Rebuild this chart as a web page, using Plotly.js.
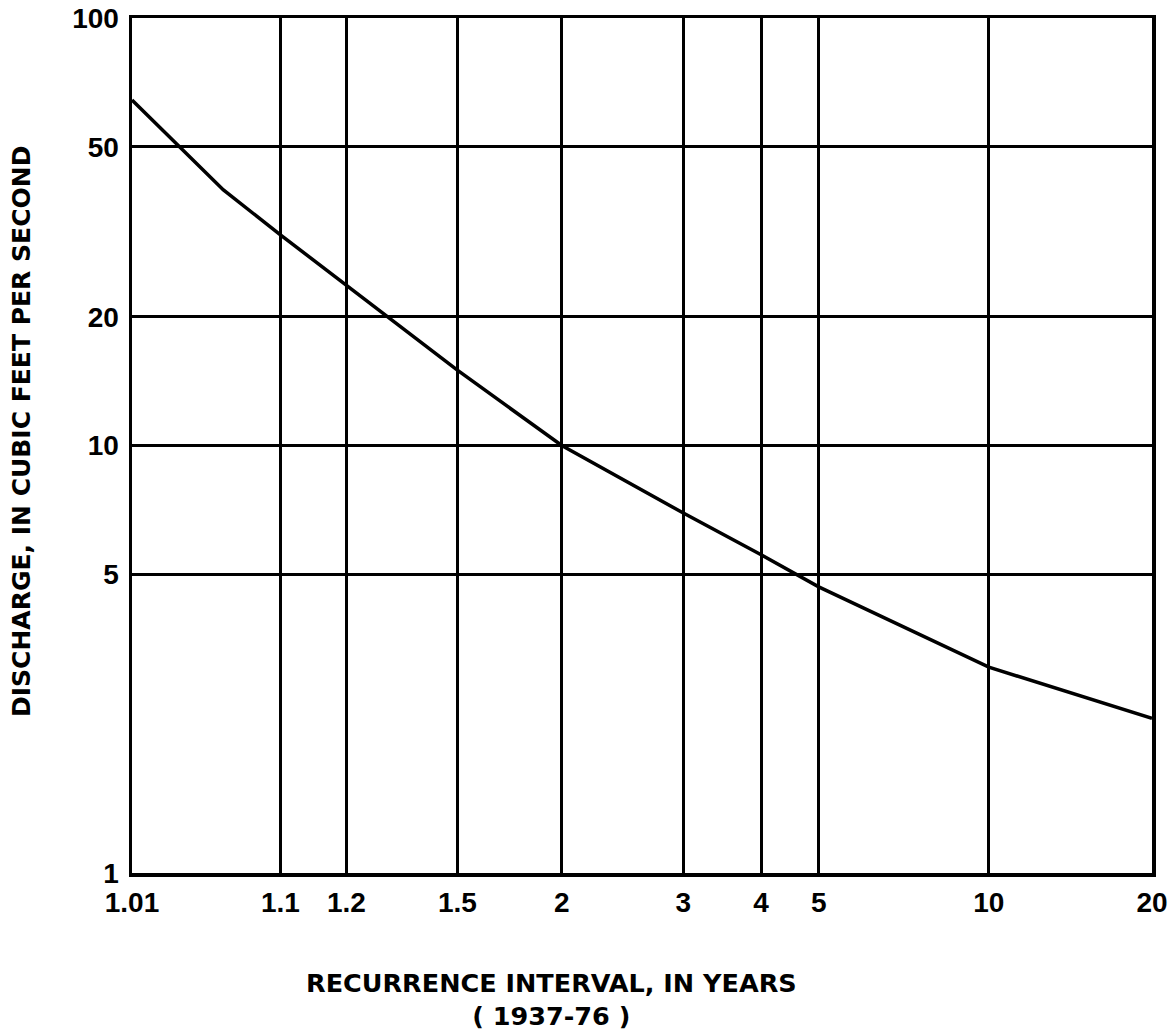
<!DOCTYPE html>
<html>
<head>
<meta charset="utf-8">
<script src="https://cdn.plot.ly/plotly-3.0.1.min.js"></script>
<style>html,body{margin:0;padding:0;background:#fff;}#chart{width:1171px;height:1033px;}</style>
</head>
<body>
<div id="chart"></div>
<script>
// Recurrence intervals (years) and discharge (cfs)
const recurrence = [1.01, 1.048, 1.1, 1.2, 1.5, 2, 3, 4, 5, 10, 20];
const discharge  = [64.3, 39.6, 31.1, 23.7, 15.0, 10.0, 6.95, 5.55, 4.67, 3.03, 2.30];

// Axis ticks
const xTickValues = [1.01, 1.1, 1.2, 1.5, 2, 3, 4, 5, 10, 20];
const xTickLabels = ["1.01", "1.1", "1.2", "1.5", "2", "3", "4", "5", "10", "20"];
const yTickValues = [1, 5, 10, 20, 50, 100];
const yTickLabels = ["1", "5", "10", "20", "50", "100"];

// Gumbel (extreme-value) probability scale for recurrence interval
function gumbel(T) { return -Math.log(-Math.log(1 - 1 / T)); }

const TITLE_FONT = "DejaVu Sans, Arial, sans-serif";
const TICK_FONT = "Liberation Sans, Arial, Helvetica, sans-serif";

const trace = {
  x: recurrence.map(gumbel),
  y: discharge,
  type: "scatter",
  mode: "lines",
  line: {color: "#000", width: 3.5},
  hoverinfo: "skip"
};

const L = 132, R = 1152, T = 18, B = 873;

const layout = {
  width: 1171, height: 1033,
  paper_bgcolor: "#fff", plot_bgcolor: "#fff",
  margin: {l: L, r: 1171 - R, t: T, b: 1033 - B},
  showlegend: false,
  font: {family: TICK_FONT, color: "#000", size: 28, weight: "bold"},
  xaxis: {
    type: "linear",
    range: [gumbel(1.01), gumbel(20)],
    tickmode: "array",
    tickvals: xTickValues.map(gumbel),
    ticktext: xTickLabels,
    ticks: "",
    showgrid: true, gridcolor: "#000", gridwidth: 3,
    zeroline: false,
    showline: true, mirror: true, linecolor: "#000", linewidth: 3.5,
    tickfont: {family: TICK_FONT, size: 28, color: "#000", weight: "bold"},
    ticklabeloverflow: "allow",
    ticklabelstandoff: 2
  },
  yaxis: {
    type: "log",
    range: [0, 2],
    tickmode: "array",
    tickvals: yTickValues,
    ticktext: yTickLabels,
    ticks: "",
    showgrid: true, gridcolor: "#000", gridwidth: 3,
    zeroline: false,
    showline: true, mirror: true, linecolor: "#000", linewidth: 3.5,
    tickfont: {family: TICK_FONT, size: 28, color: "#000", weight: "bold"},
    ticklabelstandoff: 4
  },
  annotations: [
    {
      text: "RECURRENCE INTERVAL, IN YEARS<br>( 1937-76 )",
      xref: "paper", yref: "paper",
      x: (551 - L) / (R - L), y: (B - 966) / (B - T),
      xanchor: "center", yanchor: "top",
      showarrow: false, align: "center",
      font: {family: TITLE_FONT, size: 25.5, color: "#000", weight: "bold"}
    },
    {
      text: "DISCHARGE, IN CUBIC FEET PER SECOND",
      xref: "paper", yref: "paper",
      x: (22 - L) / (R - L), y: (B - 432) / (B - T),
      xanchor: "center", yanchor: "middle",
      textangle: -90,
      showarrow: false,
      font: {family: TITLE_FONT, size: 25, color: "#000", weight: "bold"}
    }
  ]
};

Plotly.newPlot("chart", [trace], layout, {displayModeBar: false, staticPlot: true});
</script>
</body>
</html>
